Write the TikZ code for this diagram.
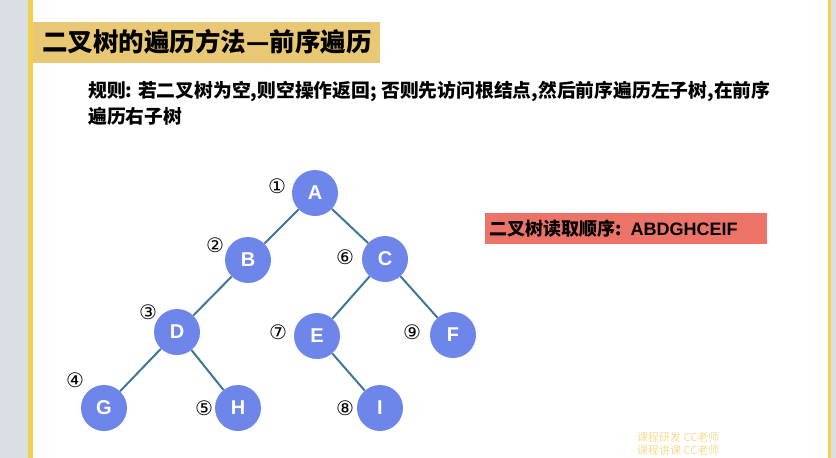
\documentclass[tikz,border=0pt]{standalone}
\usepackage{fontspec}
\setmainfont{Liberation Sans}
\newfontfamily\cjk{Noto Sans CJK SC}
\newfontfamily\sym{DejaVu Sans}
\definecolor{nodeblue}{HTML}{6E85EA}
\definecolor{edgeblue}{HTML}{3E7898}
\definecolor{banner}{HTML}{E8C874}
\definecolor{salmon}{HTML}{EC7367}
\definecolor{sidegray}{HTML}{D9DFE5}
\definecolor{frameyellow}{HTML}{F3CF50}
\definecolor{wm}{HTML}{F6DC94}
\tikzset{
  tnode/.style={circle, fill=nodeblue, minimum size=46pt, inner sep=0pt,
    text=white, font=\fontsize{20}{20}\selectfont\bfseries},
  tedge/.style={draw=edgeblue, line width=2pt},
  num/.style={font=\sym\fontsize{20}{20}\selectfont, inner sep=0pt},
}
\begin{document}
\begin{tikzpicture}[x=1pt,y=-1pt]
\useasboundingbox (0,0) rectangle (836,458);
% background and frame
\fill[sidegray] (0,0) rectangle (836,458);
\fill[white] (33,0) rectangle (828,458);
\fill[frameyellow] (27.5,0) rectangle (33,458);
\fill[frameyellow] (828,0) rectangle (831,458);
% title banner
\node[fill=banner, anchor=west, minimum height=41pt, minimum width=347pt,
      inner sep=0pt, text width=347pt, align=left,
      font=\cjk\fontsize{25.5}{25.5}\selectfont\bfseries] (title) at (33,42)
      {\hspace*{9pt}二叉树的遍历方法—前序遍历};
% rule text
\node[anchor=north west, inner sep=0pt, align=left,
      font=\cjk\fontsize{18.8}{26}\selectfont\bfseries] (rule) at (88,81)
      {规则: 若二叉树为空,则空操作返回; 否则先访问根结点,然后前序遍历左子树,在前序\\遍历右子树};
% order box
\node[fill=salmon, anchor=west, minimum width=282pt, minimum height=31pt,
      inner sep=0pt, text width=282pt, align=left,
      font=\cjk\fontsize{18}{18}\selectfont\bfseries] (order) at (485,228.5)
      {\hspace*{4pt}二叉树读取顺序: {\fontspec{Liberation Sans}\bfseries ABDGHCEIF}};
% tree nodes
\node[tnode] (A) at (315,193) {A};
\node[tnode] (B) at (248,260) {B};
\node[tnode] (C) at (385,259) {C};
\node[tnode] (D) at (177,332) {D};
\node[tnode] (E) at (317,336) {E};
\node[tnode] (F) at (453,335) {F};
\node[tnode] (G) at (104,408) {G};
\node[tnode] (H) at (238,408) {H};
\node[tnode] (I) at (380,408) {I};
% edges
\draw[tedge] (A) -- (B);
\draw[tedge] (A) -- (C);
\draw[tedge] (B) -- (D);
\draw[tedge] (D) -- (G);
\draw[tedge] (D) -- (H);
\draw[tedge] (C) -- (E);
\draw[tedge] (C) -- (F);
\draw[tedge] (E) -- (I);
% order numbers
\node[num] (n1) at (277,186) {①};
\node[num] (n2) at (215,245) {②};
\node[num] (n3) at (148,312) {③};
\node[num] (n4) at (75,380) {④};
\node[num] (n5) at (204,408) {⑤};
\node[num] (n6) at (345,257) {⑥};
\node[num] (n7) at (278,332) {⑦};
\node[num] (n8) at (345,408) {⑧};
\node[num] (n9) at (412,332) {⑨};
% watermark
\node[anchor=west, inner sep=0pt, text=wm, font=\cjk\fontsize{11}{11}\selectfont] (wm1) at (637,437) {课程研发 CC老师};
\node[anchor=west, inner sep=0pt, text=wm, font=\cjk\fontsize{11}{11}\selectfont] (wm2) at (637,450) {课程讲课 CC老师};
\end{tikzpicture}
\end{document}
